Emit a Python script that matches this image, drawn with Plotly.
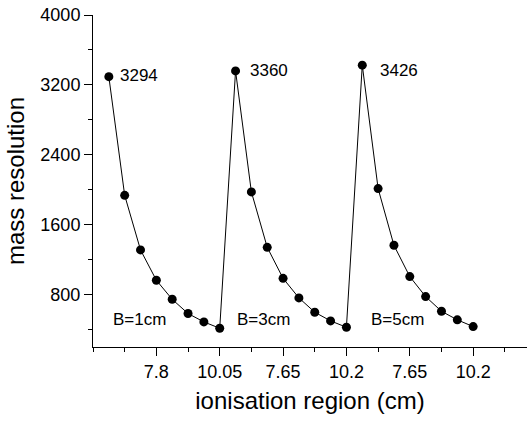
import plotly.graph_objects as go

# Mass resolution for three ionisation-region settings, plotted one after another
series_b1 = [3294, 1936, 1311, 964, 746, 583, 487, 415]
series_b3 = [3360, 1975, 1341, 986, 762, 598, 499, 426]
series_b5 = [3426, 2013, 1364, 1006, 777, 609, 511, 434]
group_labels = ["B=1cm", "B=3cm", "B=5cm"]

tick_positions = [3, 7, 11, 15, 19, 23]
tick_labels = ["7.8", "10.05", "7.65", "10.2", "7.65", "10.2"]

values = series_b1 + series_b3 + series_b5
index = list(range(len(values)))

FONT = "Arial, Liberation Sans, sans-serif"

fig = go.Figure()
fig.add_trace(go.Scatter(
    x=index, y=values, mode="lines+markers",
    line=dict(color="black", width=1),
    marker=dict(color="black", size=9),
    showlegend=False, cliponaxis=False,
))

# peak value labels
peaks = [series_b1, series_b3, series_b5]
peak_shift = [(9, 1), (12, 0), (16, -5)]
for k, s in enumerate(peaks):
    fig.add_annotation(
        x=k * 8, y=s[0], text=str(s[0]), showarrow=False,
        xanchor="left", yanchor="middle",
        xshift=peak_shift[k][0], yshift=peak_shift[k][1],
        font=dict(family=FONT, size=17, color="black"),
    )

# group labels near the bottom of each curve
group_x = [0.13, 7.96, 16.4]
for k, lab in enumerate(group_labels):
    fig.add_annotation(
        x=group_x[k], y=514, text=lab, showarrow=False,
        xanchor="left", yanchor="middle",
        font=dict(family=FONT, size=17, color="black"),
    )

fig.update_layout(
    width=527, height=421,
    margin=dict(l=93, r=0, t=15, b=74),
    paper_bgcolor="white", plot_bgcolor="white",
    font=dict(family=FONT, color="black"),
    xaxis=dict(
        range=[-1, 26.4],
        tickmode="array", tickvals=tick_positions, ticktext=tick_labels,
        ticks="outside", ticklen=8, tickwidth=1, tickcolor="black",
        minor=dict(tickmode="array", tickvals=[-1, 1, 5, 9, 13, 17, 21, 25],
                   ticks="outside", ticklen=4, tickwidth=1, tickcolor="black"),
        showline=True, linecolor="black", linewidth=1,
        showgrid=False, zeroline=False,
        tickfont=dict(family=FONT, size=18, color="black"),
        title=dict(text="ionisation region (cm)", standoff=11,
                   font=dict(family=FONT, size=24, color="black")),
    ),
    yaxis=dict(
        range=[200, 4000],
        tickmode="linear", tick0=0, dtick=800,
        ticks="outside", ticklen=8, tickwidth=1, tickcolor="black",
        minor=dict(tick0=0, dtick=400, ticks="outside", ticklen=4,
                   tickwidth=1, tickcolor="black"),
        showline=True, linecolor="black", linewidth=1,
        showgrid=False, zeroline=False,
        tickfont=dict(family=FONT, size=18, color="black"),
        title=dict(text="mass resolution", standoff=8,
                   font=dict(family=FONT, size=24, color="black")),
    ),
)

fig.write_html("out.html")
